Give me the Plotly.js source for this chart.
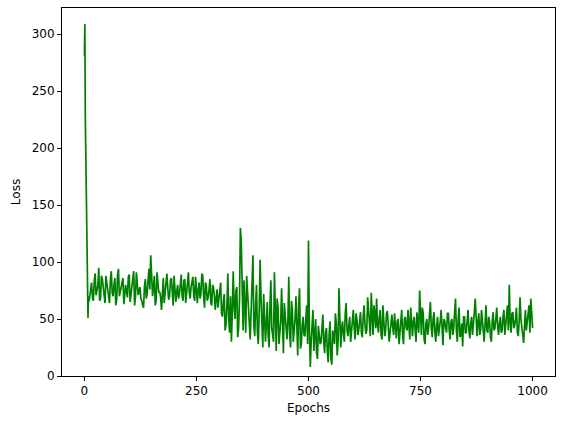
<!DOCTYPE html>
<html>
<head>
<meta charset="utf-8">
<script src="https://cdn.plot.ly/plotly-3.0.1.min.js"></script>
<style>
  html, body { margin: 0; padding: 0; background: #fff; }
  #lossChart { width: 564px; height: 423px; }
</style>
</head>
<body>
<div id="lossChart"></div>
<script>
// first epochs, one value each
let earlyEpochs = [0, 1, 2, 3, 4, 5, 6, 7, 8, 9, 10];
let earlyLoss = [281, 309, 228, 200, 130, 100, 78, 72, 51, 70, 65];

// after that, values every 4 epochs (12, 16, .. 1000)
let lossStartA = 12;
let lossA = [
    70, 82, 66, 90, 74, 95, 68, 85, 72, 88,
    78, 64, 92, 70, 86, 67, 94, 75, 83, 63,
    80, 69, 89, 73, 84, 62, 91, 71, 78, 66,
    60, 85, 72, 94, 106, 70, 88, 66, 82, 74,
    58, 86, 71, 90, 67, 84, 73, 88, 65, 80,
    72, 89, 66, 85, 76, 91, 68, 83, 70, 87,
    64, 82, 72, 88, 60, 80, 69, 85, 62, 78,
    58, 76, 66, 82, 52, 72, 45, 90, 38, 30,
    92, 50, 78, 42, 130, 55, 84, 38, 70, 46,
    60, 106, 35, 80, 28, 102, 40, 72, 30, 65,
    25, 84, 35, 91, 22, 60, 38, 77, 20, 55,
    32, 87, 25, 58, 40, 70, 18, 77, 28, 52,
    35, 62, 119, 8, 45, 22, 50, 15, 38, 30,
    54, 20, 42, 12, 48, 10, 35, 55, 18, 77,
    25, 48, 30, 64, 35, 52, 38, 58, 32, 50,
    40, 56, 34, 62, 37, 69, 42, 73, 36, 55,
    68, 38, 58, 32, 50, 40, 57, 30, 48, 42,
    55, 33, 50, 38, 58, 28, 52, 40, 47, 60,
    35, 52, 30, 48, 75, 36, 55, 28, 50, 42,
    65, 34, 56, 30, 52, 40, 58, 27, 48, 38,
    55, 32, 50, 42, 68, 30, 60, 36, 26, 52,
    38, 58, 33, 52, 44, 68, 35, 55, 40, 50,
    30, 62, 38, 48, 30, 56, 42, 60, 36, 52,
    40, 58, 45, 62, 80, 38, 56, 44, 60, 35,
    69, 40, 29, 58, 46, 62, 68, 42
];

// the epochs in between (14, 18, .. 998)
let lossStartB = 14;
let lossB = [
    76, 68, 84, 71, 79, 66, 88, 77, 64, 81,
    69, 85, 73, 80, 62, 89, 70, 78, 86, 72,
    74, 87, 65, 80, 92, 70, 83, 75, 68, 62,
    79, 68, 84, 76, 88, 78, 62, 91, 73, 69,
    75, 64, 82, 77, 70, 86, 62, 79, 74, 68,
    80, 70, 84, 64, 81, 73, 78, 87, 66, 75,
    76, 68, 90, 70, 82, 66, 75, 64, 80, 70,
    68, 60, 74, 55, 65, 40, 62, 50, 70, 56,
    62, 75, 34, 66, 118, 40, 60, 88, 52, 32,
    78, 45, 62, 38, 56, 70, 25, 50, 46, 36,
    62, 42, 30, 52, 68, 28, 48, 34, 64, 40,
    48, 36, 66, 30, 50, 42, 62, 24, 45, 36,
    50, 28, 40, 30, 58, 35, 20, 44, 28, 48,
    30, 38, 22, 36, 15, 40, 28, 46, 30, 40,
    42, 36, 55, 40, 45, 30, 48, 42, 55, 36,
    48, 38, 52, 45, 40, 58, 35, 48, 62, 42,
    45, 52, 36, 62, 35, 55, 44, 38, 54, 36,
    40, 48, 28, 46, 36, 50, 42, 58, 32, 45,
    48, 40, 56, 38, 44, 60, 32, 46, 36, 55,
    42, 50, 38, 45, 35, 48, 36, 50, 42, 55,
    40, 48, 36, 56, 40, 50, 34, 46, 52, 38,
    48, 40, 46, 36, 56, 42, 48, 36, 58, 42,
    46, 40, 52, 34, 48, 40, 50, 44, 46, 38,
    52, 36, 50, 40, 48, 55, 42, 50, 38, 48,
    50, 36, 48, 40, 52, 38, 56
];
let lossStep = 4;

let xTicks = [0, 250, 500, 750, 1000];
let yTicks = [0, 50, 100, 150, 200, 250, 300];

// put everything in epoch order
let pairs = [];
for (let i = 0; i < earlyEpochs.length; i++) {
    pairs.push([earlyEpochs[i], earlyLoss[i]]);
}
for (let i = 0; i < lossA.length; i++) {
    pairs.push([lossStartA + i * lossStep, lossA[i]]);
}
for (let i = 0; i < lossB.length; i++) {
    pairs.push([lossStartB + i * lossStep, lossB[i]]);
}
pairs.sort((a, b) => a[0] - b[0]);

let lossTrace = {
    x: pairs.map(p => p[0]),
    y: pairs.map(p => p[1]),
    type: 'scatter',
    mode: 'lines',
    line: { color: '#008000', width: 1.7 },
    hoverinfo: 'skip'
};

let axisStyle = {
    showline: true,
    linecolor: '#000',
    linewidth: 1,
    mirror: true,
    ticks: 'outside',
    ticklen: 4,
    tickwidth: 1,
    tickcolor: '#000',
    showgrid: false,
    zeroline: false,
    tickfont: { size: 12, color: '#000' }
};

let layout = {
    width: 564,
    height: 423,
    margin: { l: 62, r: 9, t: 8, b: 47 },
    paper_bgcolor: '#fff',
    plot_bgcolor: '#fff',
    font: { family: 'DejaVu Sans', size: 12, color: '#000' },
    showlegend: false,
    xaxis: Object.assign({}, axisStyle, {
        range: [-50, 1050],
        tickvals: xTicks,
        title: { text: 'Epochs', font: { size: 12 }, standoff: 6 }
    }),
    yaxis: Object.assign({}, axisStyle, {
        range: [0, 323],
        tickvals: yTicks,
        title: { text: 'Loss', font: { size: 12 }, standoff: 8 }
    })
};

const config = { displayModeBar: false, staticPlot: true };

Plotly.newPlot('lossChart', [lossTrace], layout, config);
</script>
</body>
</html>
